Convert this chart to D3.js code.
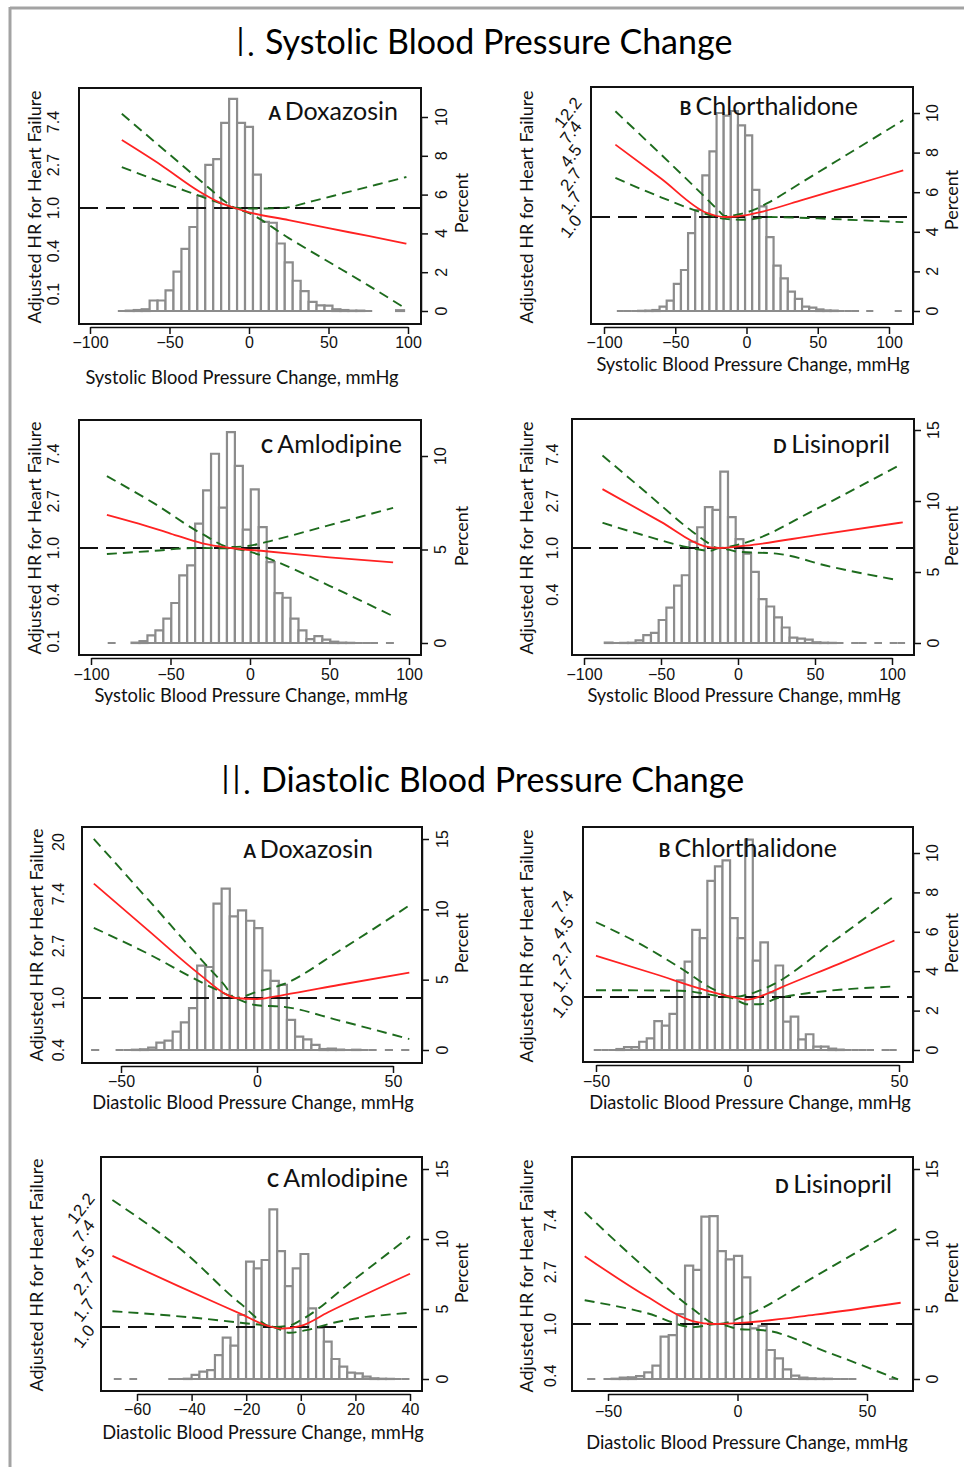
<!DOCTYPE html>
<html>
<head>
<meta charset="utf-8">
<script src="https://cdn.jsdelivr.net/npm/d3@7"></script>
<style>
  body { margin: 0; background: #fff; }
</style>
</head>
<body>
<svg id="chart" width="964" height="1467"></svg>
<script>
// ---------- data ----------
// histogram: [first bin edge, bin width] in mmHg, then percent per bin (null = no bar)
// curves: [bp change mmHg, log HR]

// I. systolic
const sbpDoxBin = [-82.5, 5];
const sbpDoxPct = [0,0.02,0.05,0.09,0.54,0.54,1.06,2.03,3.2,4.33,5.94,7.53,7.83,9.7,10.93,9.7,9.49,7.03,4.59,4.55,3.48,2.51,1.56,1.02,0.47,0.29,0.28,0.09,0.05,0.02,0.02,0,null,null,null,0.04];
const sbpDoxHR = [[-80,1.58],[-55,0.99],[-31,0.38],[-18,0.12],[-9,0],[0,-0.1],[25,-0.28],[50,-0.47],[75,-0.65],[99,-0.83]];
const sbpDoxUp = [[-80,2.19],[-60,1.56],[-40,0.93],[-25,0.46],[-15,0.15],[-9,0.01],[0,-0.01],[10,-0.01],[21,0],[40,0.16],[60,0.35],[80,0.54],[99,0.72]];
const sbpDoxLo = [[-80,0.95],[-60,0.67],[-40,0.4],[-25,0.2],[-15,0.07],[-9,0],[0,-0.12],[25,-0.7],[50,-1.25],[75,-1.8],[99,-2.35]];

const sbpChlBin = [-91, 5];
const sbpChlPct = [0,0,0,0.01,0.02,0.05,0.22,0.52,1.37,2.07,3.93,5.1,6.85,8.06,10.0,9.87,10.1,9.38,8.87,6.12,5.28,3.73,2.29,1.65,0.98,0.61,0.22,0.17,0.08,0.03,0.02,0,0,0,null,0,null,null,null,0];
const sbpChlHR = [[-92,1.54],[-60,0.82],[-28,0.09],[-15,0],[0,0.04],[12,0.12],[40,0.37],[75,0.68],[110,0.99]];
const sbpChlUp = [[-92,2.25],[-60,1.33],[-30,0.45],[-20,0.15],[-15,0.02],[-5,0.06],[5,0.15],[15,0.3],[40,0.76],[75,1.41],[110,2.06]];
const sbpChlLo = [[-92,0.83],[-60,0.42],[-30,0.08],[-15,-0.04],[0,-0.06],[15,0],[50,-0.03],[80,-0.07],[110,-0.11]];

const sbpAmlBin = [-89.5, 5];
const sbpAmlPct = [0,null,null,0.02,0.1,0.41,0.68,1.3,2.14,3.62,4.15,6.38,8.16,10.12,7.24,11.28,9.47,6.06,8.22,6.2,4.33,2.67,2.42,1.3,0.68,0.21,0.37,0.18,0.07,0.02,0.01,0,0,0,null,0];
const sbpAmlHR = [[-90,0.71],[-70,0.52],[-50,0.31],[-30,0.1],[-12,0],[10,-0.07],[50,-0.2],[90,-0.31]];
const sbpAmlUp = [[-90,1.54],[-60,0.95],[-30,0.3],[-12,0.02],[0,0.05],[15,0.17],[50,0.49],[90,0.86]];
const sbpAmlLo = [[-90,-0.13],[-60,-0.06],[-35,0],[-12,-0.01],[0,-0.08],[15,-0.27],[50,-0.81],[90,-1.46]];

const sbpLisBin = [-86.5, 5];
const sbpLisPct = [0.03,0,0.01,0.02,0.19,0.55,0.71,1.62,2.49,4.04,4.77,7.13,8.15,9.57,9.38,12.07,8.86,7.32,6.29,5.01,3.09,2.57,1.81,1.09,0.38,0.31,0.24,0.05,0.02,0.01,0,null,0,0,null,0,null,0,0];
const sbpLisHR = [[-88,1.26],[-50,0.56],[-22,0.04],[-12,0],[5,0.05],[50,0.27],[107,0.55]];
const sbpLisUp = [[-88,1.98],[-60,1.2],[-30,0.36],[-20,0.12],[-13,0],[0,0.07],[10,0.17],[50,0.82],[104,1.76]];
const sbpLisLo = [[-88,0.54],[-60,0.26],[-33,0.02],[-18,-0.06],[-12,0],[0,-0.08],[25,-0.12],[60,-0.4],[104,-0.69]];

// II. diastolic
const dbpDoxBin = [-61, 3];
const dbpDoxPct = [0,null,null,0,0,0.02,0.05,0.17,0.52,0.67,1.31,1.97,2.97,6.0,5.9,10.4,11.47,9.5,9.93,9.19,8.67,5.65,4.92,4.63,2.14,0.95,0.76,0.36,0.07,0.1,0.03,0,0.02,0,0,null,0,null,0];
const dbpDoxHR = [[-60,2.2],[-40,1.3],[-21,0.45],[-11,0.06],[-8,0],[0,-0.02],[10,0.06],[30,0.25],[56,0.49]];
const dbpDoxUp = [[-60,3.06],[-40,1.89],[-20,0.71],[-12,0.25],[-8,0],[0,0.12],[10,0.27],[30,0.9],[56,1.78]];
const dbpDoxLo = [[-60,1.35],[-40,0.85],[-20,0.29],[-8,0],[0,-0.14],[10,-0.17],[30,-0.43],[56,-0.79]];

const dbpChlBin = [-50.75, 2.5];
const dbpChlPct = [0,0,0,0.05,0.15,0.15,0.42,0.59,1.47,1.24,1.83,3.53,4.49,6.1,5.68,8.59,9.32,9.63,6.69,5.68,10.68,4.54,5.46,2.93,4.29,1.44,1.69,0.54,0.8,0.17,0.17,0.07,0.02,0,0,0,0,null,0,0];
const dbpChlHR = [[-50,0.79],[-30,0.43],[-15,0.15],[-5,0],[0,-0.05],[5,0.03],[11,0.18],[30,0.63],[48.5,1.08]];
const dbpChlUp = [[-50,1.43],[-35,1.0],[-22,0.55],[-11,0.14],[-5,0],[2,0.08],[8.5,0.24],[28,1.05],[48,1.91]];
const dbpChlLo = [[-50,0.13],[-22,0.12],[-11,0.03],[-5,-0.02],[0,-0.14],[4,-0.14],[10,-0.02],[48,0.2]];

const dbpAmlBin = [-68.5, 2.85];
const dbpAmlPct = [0,null,0,null,null,null,null,0,0,0.02,0.29,0.52,0.64,1.71,2.95,2.38,4.57,8.38,7.9,8.5,12.12,9.14,6.64,7.9,8.93,5.05,3.67,2.67,1.43,0.88,0.45,0.4,0.17,0.05,0.02,0.01,0,0];
const dbpAmlHR = [[-69,1.35],[-45,0.78],[-22,0.25],[-12,0.02],[-7,-0.03],[0,0.02],[10,0.28],[40,1.01]];
const dbpAmlUp = [[-69,2.41],[-42,1.39],[-22,0.44],[-10,0],[-4,0.03],[0,0.13],[20,0.92],[40,1.72]];
const dbpAmlLo = [[-69,0.3],[-42,0.19],[-22,0.08],[-10,0],[-4,-0.11],[2,-0.06],[12,0.08],[40,0.27]];

const dbpLisBin = [-58.05, 3.15];
const dbpLisPct = [0,null,0,0.02,0.1,0.12,0.21,0.48,0.95,3.02,3.14,4.64,8.1,7.79,11.6,11.64,9.14,8.55,8.79,7.26,3.62,3.79,2.07,1.48,0.69,0.24,0.1,0.05,0.02,0.02,0,0,0,null,null,null,null,0];
const dbpLisHR = [[-59,1.31],[-35,0.53],[-17,0.05],[-9,0],[4,0.03],[30,0.18],[63,0.41]];
const dbpLisUp = [[-59,2.16],[-35,1.05],[-17,0.28],[-8,0],[4,0.18],[30,0.92],[63,1.88]];
const dbpLisLo = [[-59,0.46],[-35,0.21],[-17,-0.06],[-8,0],[1,-0.1],[10,-0.12],[35,-0.55],[62,-1.07]];

// tick values (log HR) and their printed labels
const hrTicks5 = [-2, -1, 0, 1, 2];
const hrLabels5 = ["0.1", "0.4", "1.0", "2.7", "7.4"];
const hrTicks4 = [-1, 0, 1, 2];
const hrLabels4 = ["0.4", "1.0", "2.7", "7.4"];
const hrTicks20 = [-1, 0, 1, 2, 3];
const hrLabels20 = ["0.4", "1.0", "2.7", "7.4", "20"];
const hrTicksHalf = [0, 0.5, 1, 1.5, 2, 2.5];
const hrLabelsHalf = ["1.0", "1.7", "2.7", "4.5", "7.4", "12.2"];
const pctTicks2 = [0, 2, 4, 6, 8, 10];
const pctTicks5 = [0, 5, 10];
const pctTicks15 = [0, 5, 10, 15];

const sbpLabel = "Systolic Blood Pressure Change, mmHg";
const dbpLabel = "Diastolic Blood Pressure Change, mmHg";
const hrAxisLabel = "Adjusted HR for Heart Failure";

// ---------- layout ----------
const panels = [
  {box:[79,88,421,324], xd:[-100,100], xr:[90,408], xt:[-100,-50,0,50,100], hr:[208,43], ht:hrTicks5, hl:hrLabels5, rot:false, hlx:53,
   pct:[311,10,117], pt:pctTicks2, rtx:441, pcx:462, pcy:203, ylx:35, yly:207, xty:343, xly:378, xlx:242, xl:sbpLabel,
   letter:"A", drug:"Doxazosin", tx:398, ty:120, bin:sbpDoxBin, hist:sbpDoxPct, est:sbpDoxHR, up:sbpDoxUp, lo:sbpDoxLo},
  {box:[591,87,913,324], xd:[-100,100], xr:[604,889], xt:[-100,-50,0,50,100], hr:[217,47], ht:hrTicksHalf, hl:hrLabelsHalf, rot:true, hlx:578,
   pct:[311,10,113], pt:pctTicks2, rtx:932, pcx:952, pcy:200, ylx:527, yly:207, xty:343, xly:365, xlx:753, xl:sbpLabel,
   letter:"B", drug:"Chlorthalidone", tx:858, ty:115, bin:sbpChlBin, hist:sbpChlPct, est:sbpChlHR, up:sbpChlUp, lo:sbpChlLo},
  {box:[79,420,421,655], xd:[-100,100], xr:[91,409], xt:[-100,-50,0,50,100], hr:[548,46.7], ht:hrTicks5, hl:hrLabels5, rot:false, hlx:53,
   pct:[643,10,456], pt:pctTicks5, rtx:440, pcx:462, pcy:536, ylx:35, yly:538, xty:675, xly:696, xlx:251, xl:sbpLabel,
   letter:"C", drug:"Amlodipine", tx:402, ty:453, bin:sbpAmlBin, hist:sbpAmlPct, est:sbpAmlHR, up:sbpAmlUp, lo:sbpAmlLo},
  {box:[572,419,914,655], xd:[-100,100], xr:[584,892], xt:[-100,-50,0,50,100], hr:[548,46.7], ht:hrTicks4, hl:hrLabels4, rot:false, hlx:552,
   pct:[643,15,430], pt:pctTicks15, rtx:933, pcx:952, pcy:536, ylx:527, yly:538, xty:675, xly:696, xlx:744, xl:sbpLabel,
   letter:"D", drug:"Lisinopril", tx:890, ty:453, bin:sbpLisBin, hist:sbpLisPct, est:sbpLisHR, up:sbpLisUp, lo:sbpLisLo},
  {box:[82,827,422,1063], xd:[-50,50], xr:[121,393], xt:[-50,0,50], hr:[998,52], ht:hrTicks20, hl:hrLabels20, rot:false, hlx:58,
   pct:[1050,15,839], pt:pctTicks15, rtx:442, pcx:462, pcy:943, ylx:37, yly:945, xty:1082, xly:1103, xlx:253, xl:dbpLabel,
   letter:"A", drug:"Doxazosin", tx:373, ty:858, bin:dbpDoxBin, hist:dbpDoxPct, est:dbpDoxHR, up:dbpDoxUp, lo:dbpDoxLo},
  {box:[583,827,913,1062], xd:[-50,50], xr:[596,899], xt:[-50,0,50], hr:[997,52.3], ht:hrTicksHalf.slice(0,5), hl:hrLabelsHalf.slice(0,5), rot:true, hlx:570,
   pct:[1050,10,853], pt:pctTicks2, rtx:932, pcx:952, pcy:943, ylx:527, yly:946, xty:1082, xly:1103, xlx:750, xl:dbpLabel,
   letter:"B", drug:"Chlorthalidone", tx:837, ty:857, bin:dbpChlBin, hist:dbpChlPct, est:dbpChlHR, up:dbpChlUp, lo:dbpChlLo},
  {box:[101,1157,422,1391], xd:[-60,40], xr:[137,410], xt:[-60,-40,-20,0,20,40], hr:[1327,52.7], ht:hrTicksHalf, hl:hrLabelsHalf, rot:true, hlx:91,
   pct:[1379,15,1169], pt:pctTicks15, rtx:442, pcx:462, pcy:1273, ylx:37, yly:1275, xty:1410, xly:1433, xlx:263, xl:dbpLabel,
   letter:"C", drug:"Amlodipine", tx:408, ty:1187, bin:dbpAmlBin, hist:dbpAmlPct, est:dbpAmlHR, up:dbpAmlUp, lo:dbpAmlLo},
  {box:[572,1157,913,1391], xd:[-50,50], xr:[608,867], xt:[-50,0,50], hr:[1324,51.8], ht:hrTicks4, hl:hrLabels4, rot:false, hlx:550,
   pct:[1379,15,1169], pt:pctTicks15, rtx:932, pcx:952, pcy:1273, ylx:527, yly:1276, xty:1412, xly:1443, xlx:747, xl:dbpLabel,
   letter:"D", drug:"Lisinopril", tx:892, ty:1193, bin:dbpLisBin, hist:dbpLisPct, est:dbpLisHR, up:dbpLisUp, lo:dbpLisLo}
];

const tickFont = "'Liberation Sans', Arial, sans-serif";
const labelFont = "Lato, 'Open Sans', sans-serif";
const minus = v => (v < 0 ? "\u2212" + Math.abs(v) : String(v));

const svg = d3.select("#chart");

// page frame
svg.append("line").attr("x1", 10).attr("x2", 964).attr("y1", 8).attr("y2", 8)
  .attr("stroke", "#a3a3a3").attr("stroke-width", 3);
svg.append("line").attr("x1", 10).attr("x2", 10).attr("y1", 7).attr("y2", 1467)
  .attr("stroke", "#a3a3a3").attr("stroke-width", 3);

// section titles
function sectionTitle(numeral, text, xNum, xText, y) {
  svg.append("text").attr("x", xNum).attr("y", y + 2)
    .attr("font-family", labelFont).attr("font-size", 42).attr("font-weight", 300)
    .text(numeral);
  svg.append("text").attr("x", xText).attr("y", y)
    .attr("font-family", labelFont).attr("font-size", 34)
    .text(text);
}
sectionTitle("I.", "Systolic Blood Pressure Change", 235, 265, 54);
sectionTitle("II.", "Diastolic Blood Pressure Change", 220, 261, 792);

function drawPanel(p) {
  const g = svg.append("g");
  const [bx0, by0, bx1, by1] = p.box;
  const x = d3.scaleLinear().domain(p.xd).range(p.xr);
  const y = d3.scaleLinear().domain([0, 1]).range([p.hr[0], p.hr[0] - p.hr[1]]);
  const yp = d3.scaleLinear().domain([0, p.pct[1]]).range([p.pct[0], p.pct[2]]);

  // histogram
  const bars = p.hist.map((v, i) => ({ a: p.bin[0] + i * p.bin[1], b: p.bin[0] + (i + 1) * p.bin[1], v }))
    .filter(d => d.v !== null);
  g.append("g").selectAll("path").data(bars).join("path")
    .attr("d", d => `M${x(d.a)},${yp(0)}V${yp(d.v)}H${x(d.b)}V${yp(0)}Z`)
    .attr("fill", "#fff").attr("stroke", "#8c8c8c").attr("stroke-width", 2.2);

  // reference HR = 1
  g.append("line").attr("x1", bx0).attr("x2", bx1).attr("y1", y(0)).attr("y2", y(0))
    .attr("stroke", "#111").attr("stroke-width", 1.8).attr("stroke-dasharray", "19,8");

  const line = d3.line().x(d => x(d[0])).y(d => y(d[1])).curve(d3.curveMonotoneX);
  [p.up, p.lo].forEach(ci => {
    g.append("path").attr("d", line(ci)).attr("fill", "none")
      .attr("stroke", "#1d6b1d").attr("stroke-width", 1.9).attr("stroke-dasharray", "10,6");
  });
  g.append("path").attr("d", line(p.est)).attr("fill", "none")
    .attr("stroke", "#ff2222").attr("stroke-width", 1.8);

  // frame
  g.append("rect").attr("x", bx0).attr("y", by0).attr("width", bx1 - bx0).attr("height", by1 - by0)
    .attr("fill", "none").attr("stroke", "#111").attr("stroke-width", 2);

  // bottom axis
  const pad = p.xty - 6 - (by1 + 3 + 7);
  const ax = g.append("g").attr("transform", `translate(0,${by1 + 3})`)
    .call(d3.axisBottom(x).tickValues(p.xt).tickSize(7).tickSizeOuter(0).tickPadding(pad).tickFormat(minus));
  ax.select(".domain").attr("stroke", "#111").attr("stroke-width", 1.5);
  ax.selectAll(".tick line").attr("stroke", "#111").attr("stroke-width", 1.5);
  ax.selectAll("text").attr("font-family", tickFont).attr("font-size", 16).attr("fill", "#111");

  // right axis (percent)
  const ar = g.append("g").attr("transform", `translate(${bx1},0)`)
    .call(d3.axisRight(yp).tickValues(p.pt).tickSize(7).tickSizeOuter(0).tickFormat(""));
  ar.select(".domain").attr("stroke", "#111").attr("stroke-width", 1.5);
  ar.selectAll(".tick line").attr("stroke", "#111").attr("stroke-width", 1.5);
  g.append("g").selectAll("text").data(p.pt).join("text")
    .attr("transform", d => `translate(${p.rtx},${yp(d)}) rotate(-90)`)
    .attr("text-anchor", "middle").attr("dy", "0.35em")
    .attr("font-family", tickFont).attr("font-size", 16).attr("fill", "#111")
    .text(d => d);

  // left HR labels
  g.append("g").selectAll("text").data(p.ht).join("text")
    .attr("transform", d => p.rot
      ? `translate(${p.hlx},${y(d)}) rotate(-52)`
      : `translate(${p.hlx},${y(d)}) rotate(-90)`)
    .attr("text-anchor", p.rot ? "end" : "middle").attr("dy", "0.35em")
    .attr("font-family", tickFont).attr("font-size", p.rot ? 17 : 16).attr("fill", "#111")
    .text((d, i) => p.hl[i]);

  // axis titles
  g.append("text").attr("transform", `translate(${p.ylx},${p.yly}) rotate(-90)`)
    .attr("text-anchor", "middle").attr("dy", "0.35em")
    .attr("font-family", labelFont).attr("font-size", 18).attr("fill", "#111").text(hrAxisLabel);
  g.append("text").attr("transform", `translate(${p.pcx},${p.pcy}) rotate(-90)`)
    .attr("text-anchor", "middle").attr("dy", "0.35em")
    .attr("font-family", labelFont).attr("font-size", 18).attr("fill", "#111").text("Percent");
  g.append("text").attr("x", p.xlx).attr("y", p.xly).attr("text-anchor", "middle").attr("dy", "0.35em")
    .attr("font-family", labelFont).attr("font-size", 18.3).attr("fill", "#111").text(p.xl);

  // panel title
  const t = g.append("text").attr("x", p.tx).attr("y", p.ty).attr("text-anchor", "end")
    .attr("font-family", labelFont).attr("fill", "#111");
  t.append("tspan").attr("font-weight", 700).attr("font-size", 18).text(p.letter + " ");
  t.append("tspan").attr("font-size", 25).text(p.drug);
}

panels.forEach(drawPanel);
</script>
</body>
</html>
